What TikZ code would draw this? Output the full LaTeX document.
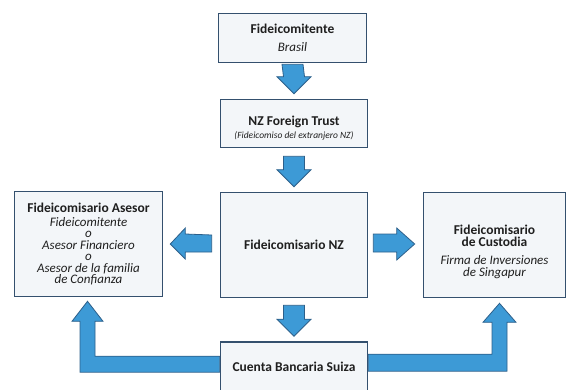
\documentclass[tikz,border=0pt]{standalone}
\usepackage{fontspec}
\setmainfont{Carlito}
\usetikzlibrary{calc,positioning}
\definecolor{boxline}{HTML}{34506E}
\definecolor{boxfill}{HTML}{F3F6F9}
\definecolor{arrowfill}{HTML}{3D9AD6}
\definecolor{arrowline}{HTML}{2C5F8A}
\definecolor{txt}{HTML}{1F1F1F}

\newcommand{\tit}{\fontsize{13.5}{11.5}\selectfont\bfseries}
\newcommand{\cur}{\fontsize{13}{11.5}\selectfont\itshape}

\begin{document}
\begin{tikzpicture}[x=1pt, y=-1pt,
		caja/.style={draw=boxline, fill=boxfill, line width=1.6pt, align=center, text=txt, inner sep=2pt,
			font=\fontsize{13}{11.5}\selectfont, execute at begin node={\lineskiplimit=-20pt}},
		flecha/.style={draw=arrowline, fill=arrowfill, line width=0.8pt, line join=miter}
		]
		\useasboundingbox (0,0) rectangle (568,389);
		
		% Las cajas
		\node[caja, minimum width=148pt, minimum height=49pt] (fidei) at (292.5,38)
			{\tit Fideicomitente\\[6.5pt]
			 \cur Brasil};
		\node[caja, minimum width=147pt, minimum height=48pt] (trust) at (294,123.5)
			{\rule{0pt}{19pt}\tit NZ Foreign Trust\\[1.5pt]
			 \fontsize{9.5}{11}\selectfont\itshape (Fideicomiso del extranjero NZ)};
		\node[caja, minimum width=147pt, minimum height=105pt] (nz) at (294,245)
			{\tit Fideicomisario NZ};
		\node[caja, minimum width=147pt, minimum height=50pt] (cuenta) at (294,367)
			{\tit Cuenta Bancaria Suiza};
		\node[caja, minimum width=148pt, minimum height=105pt] (asesor) at (88.5,244)
			{\tit Fideicomisario Asesor\\[2.5pt]
			 \cur Fideicomitente\\
			 \cur o\\
			 \cur Asesor Financiero\\
			 \cur o\\
			 \cur Asesor de la familia\\
			 \cur de Confianza};
		\node[caja, minimum width=142pt, minimum height=105pt, font=\fontsize{13}{12}\selectfont] (custodia) at (494.5,245)
			{\rule{0pt}{24pt}\tit Fideicomisario\\
			 \tit de Custodia\\[6pt]
			 \cur Firma de Inversiones\\
			 \cur de Singapur};
		
		% Las flechas hacia abajo
		\foreach \a/\b/\g in {fidei/trust/1, trust/nz/8, nz/cuenta/7}
			\draw[flecha] ($(\a.south)+(-10.5,\g)$) -- ($(\b.north)+(-10.5,-22)$)
				-- ($(\b.north)+(-17,-22)$) -- ($(\b.north)+(0,-5)$)
				-- ($(\b.north)+(17,-22)$) -- ($(\b.north)+(10.5,-22)$)
				-- ($(\a.south)+(10.5,\g)$) -- cycle;
		
		% Las flechas laterales
		\draw[flecha] ($(nz.west)+(-8,-10)$) -- ($(asesor.east)+(22,-10)$)
			-- ($(asesor.east)+(22,-16)$) -- ($(asesor.east)+(7,0)$)
			-- ($(asesor.east)+(22,15)$) -- ($(asesor.east)+(22,8)$)
			-- ($(nz.west)+(-8,7)$) -- cycle;
		\draw[flecha] ($(nz.east)+(5,-11)$) -- ($(custodia.west)+(-26,-11)$)
			-- ($(custodia.west)+(-26,-17)$) -- ($(custodia.west)+(-8,-1)$)
			-- ($(custodia.west)+(-26,15)$) -- ($(custodia.west)+(-26,7)$)
			-- ($(nz.east)+(5,7)$) -- cycle;
		
		% Las flechas en L desde la cuenta
		\coordinate (lt) at ($(asesor.south)+(-1,4)$);
		\coordinate (lh) at ($(cuenta.north west)+(0,15)$);
		\coordinate (ll) at ($(cuenta.north west)+(0,31)$);
		\draw[flecha] (lh) -- ($(lt |- lh)+(7.5,0)$) -- ($(lt)+(7.5,20)$)
			-- ($(lt)+(15.5,20)$) -- (lt) -- ($(lt)+(-15.5,20)$)
			-- ($(lt)+(-7.5,20)$) -- ($(lt |- ll)+(-7.5,0)$) -- (ll) -- cycle;
		\coordinate (rt) at ($(custodia.south)+(5,5)$);
		\coordinate (rh) at ($(cuenta.north east)+(0,13)$);
		\coordinate (rl) at ($(cuenta.north east)+(0,30)$);
		\draw[flecha] (rh) -- ($(rt |- rh)+(-7.5,0)$) -- ($(rt)+(-7.5,19)$)
			-- ($(rt)+(-16.5,19)$) -- (rt) -- ($(rt)+(16.5,19)$)
			-- ($(rt)+(7.5,19)$) -- ($(rt |- rl)+(7.5,0)$) -- (rl) -- cycle;
	\end{tikzpicture}
\end{document}
